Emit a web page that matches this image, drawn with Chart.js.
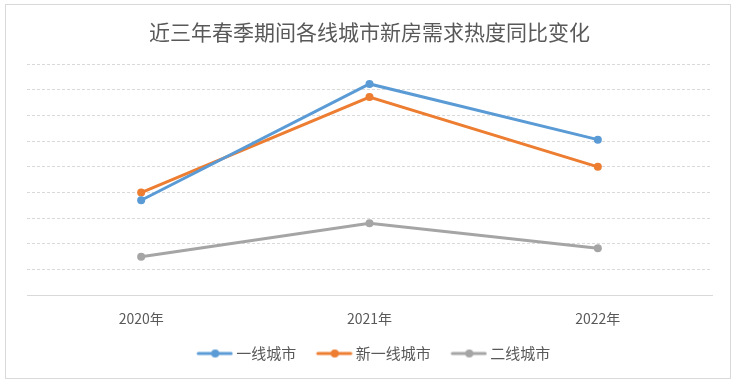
<!DOCTYPE html>
<html>
<head>
<meta charset="utf-8">
<script src="https://cdn.jsdelivr.net/npm/chart.js@4"></script>
<style>
  body { margin: 0; background: #fff; }
  #box { position: absolute; left: 5px; top: 4px; width: 724px; height: 373px; border: 1px solid #d9d9d9; }
</style>
</head>
<body>
<div id="box"><canvas id="myChart" width="724" height="373"></canvas></div>
<script>
const years = ['2020年', '2021年', '2022年'];
const tier1 = [3.7, 8.23, 6.06];
const newTier1 = [4.0, 7.72, 5.0];
const tier2 = [1.5, 2.8, 1.83];

const fontFamily = "'Noto Sans CJK SC', 'Noto Sans', sans-serif";

// legend marker: line with a dot (drawn in the right part of the box)
function legendMark(color) {
    const c = document.createElement('canvas');
    c.width = 49;
    c.height = 10;
    const g = c.getContext('2d');
    g.strokeStyle = color;
    g.lineWidth = 3;
    g.lineCap = 'round';
    g.beginPath();
    g.moveTo(14, 5);
    g.lineTo(47, 5);
    g.stroke();
    g.fillStyle = color;
    g.beginPath();
    g.arc(31, 5, 4, 0, Math.PI * 2);
    g.fill();
    return c;
}

function series(label, data, color) {
    return {
        label: label,
        data: data,
        borderColor: color,
        backgroundColor: color,
        borderWidth: 3,
        pointRadius: 4,
        pointHoverRadius: 4,
        pointBorderWidth: 0,
        tension: 0
    };
}

const ctx = document.getElementById('myChart').getContext('2d');
new Chart(ctx, {
    type: 'line',
    data: {
        labels: years,
        datasets: [
            series('一线城市', tier1, '#5B9BD5'),
            series('新一线城市', newTier1, '#ED7D31'),
            series('二线城市', tier2, '#A5A5A5')
        ]
    },
    options: {
        responsive: false,
        animation: false,
        layout: { padding: { left: 21, right: 18, bottom: 7 } },
        plugins: {
            title: {
                display: true,
                text: '近三年春季期间各线城市新房需求热度同比变化',
                color: '#595959',
                font: { family: fontFamily, size: 21, weight: 'normal' },
                padding: { top: 14, bottom: 20 }
            },
            legend: {
                position: 'bottom',
                labels: {
                    color: '#595959',
                    font: { family: fontFamily, size: 15 },
                    usePointStyle: true,
                    pointStyleWidth: 40,
                    padding: 12,
                    generateLabels: function(chart) {
                        const items = Chart.defaults.plugins.legend.labels.generateLabels(chart);
                        items.forEach(it => {
                            it.pointStyle = legendMark(chart.data.datasets[it.datasetIndex].borderColor);
                        });
                        return items;
                    }
                }
            },
            tooltip: { enabled: false }
        },
        scales: {
            x: {
                offset: true,
                grid: { display: false },
                border: { display: true, color: '#d9d9d9', width: 1 },
                ticks: {
                    color: '#595959',
                    font: { family: fontFamily, size: 14 },
                    padding: 7
                }
            },
            y: {
                min: 0,
                max: 9,
                ticks: { display: false, stepSize: 1 },
                grid: {
                    drawTicks: false,
                    color: c => c.tick && c.tick.value === 0 ? 'rgba(0,0,0,0)' : '#d9d9d9'
                },
                border: { display: false, dash: [3, 2] }
            }
        }
    }
});
</script>
</body>
</html>
